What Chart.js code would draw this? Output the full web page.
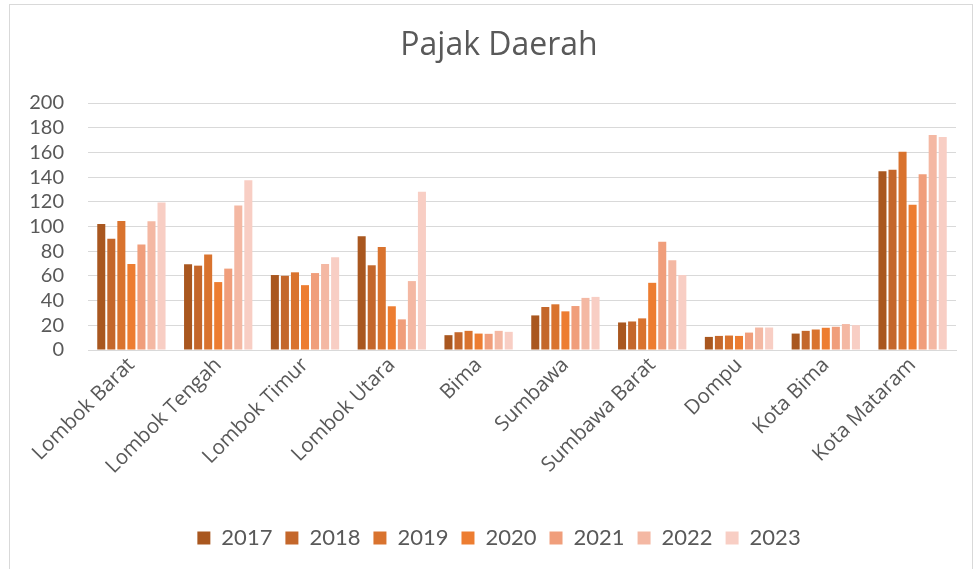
<!DOCTYPE html>
<html>
<head>
<meta charset="utf-8">
<script src="https://cdn.jsdelivr.net/npm/chart.js@4/dist/chart.umd.min.js"></script>
<style>
html,body{margin:0;padding:0;background:#fff;}
#wrap{position:relative;width:978px;height:569px;}
</style>
</head>
<body>
<div id="wrap"><canvas id="c" width="978" height="569"></canvas></div>
<script>
const categories = ["Lombok Barat","Lombok Tengah","Lombok Timur","Lombok Utara","Bima","Sumbawa","Sumbawa Barat","Dompu","Kota Bima","Kota Mataram"];
const years = ["2017","2018","2019","2020","2021","2022","2023"];
const v2017 = [102, 69.4, 60.7, 92.2, 12.0, 28.0, 22.3, 10.6, 13.3, 144.8];
const v2018 = [90, 68.3, 60.1, 68.6, 14.4, 34.8, 23.1, 11.4, 15.5, 145.9];
const v2019 = [104.5, 77.3, 62.9, 83.5, 15.5, 37.0, 25.6, 11.7, 16.6, 160.5];
const v2020 = [69.7, 55.0, 52.5, 35.4, 13.3, 31.3, 54.4, 11.4, 18.0, 117.6];
const v2021 = [85.4, 65.9, 62.3, 24.8, 13.1, 35.6, 87.6, 14.1, 18.8, 142.3];
const v2022 = [104.2, 117.0, 69.7, 55.8, 15.5, 42.2, 72.7, 18.2, 21.0, 174.1];
const v2023 = [119.5, 137.4, 75.1, 128.2, 14.7, 43.0, 60.7, 18.2, 20.1, 172.5];
const yTicks = [0,20,40,60,80,100,120,140,160,180,200];
const colors = ["#A9571F","#C4672B","#D9732E","#ED7D31","#F09E7B","#F4B8A3","#F8CEC4"];
const series = [v2017,v2018,v2019,v2020,v2021,v2022,v2023];

const borderPlugin = {
  id:'outerBorder',
  beforeDraw(chart){
    const ctx = chart.ctx;
    ctx.save();
    ctx.fillStyle = '#fff';
    ctx.fillRect(0,0,chart.width,chart.height);
    ctx.strokeStyle = '#d9d9d9';
    ctx.lineWidth = 1;
    ctx.strokeRect(9.5,4.5,963,570);
    ctx.restore();
  }
};

new Chart(document.getElementById('c'), {
  type:'bar',
  data:{
    labels: categories,
    datasets: series.map((d,i)=>({
      label: years[i],
      data: d,
      backgroundColor: colors[i],
      borderWidth: 0,
      categoryPercentage: 0.81,
      barPercentage: 0.8
    }))
  },
  options:{
    responsive:false,
    animation:false,
    devicePixelRatio:1,
    layout:{padding:{left:20,right:0,top:0,bottom:10}},
    plugins:{
      title:{
        display:true,
        text:'Pajak Daerah',
        color:'#595959',
        font:{family:'Open Sans',size:32,weight:'normal'},
        padding:{top:27,bottom:37.6}
      },
      legend:{
        position:'bottom',
        labels:{
          color:'#595959',
          boxWidth:13,
          boxHeight:13,
          padding:13,
          font:{family:'Lato',size:22}
        }
      },
      tooltip:{enabled:false}
    },
    scales:{
      x:{
        grid:{display:false,drawTicks:false},
        border:{color:'#d9d9d9',width:1},
        ticks:{
          color:'#595959',
          font:{family:'Open Sans',size:20.5},
          minRotation:45,
          maxRotation:45,
          padding:3,
          autoSkip:false
        },
        afterFit(scale){ scale.height = 164; }
      },
      y:{
        min:0,max:200,
        afterBuildTicks(scale){ scale.ticks = yTicks.map(v=>({value:v})); },
        grid:{color:'#d9d9d9',lineWidth:1,drawTicks:false},
        border:{display:false},
        ticks:{
          color:'#595959',
          font:{family:'Lato',size:20},
          padding:24,
          autoSkip:false
        },
        afterFit(scale){ scale.width = 68; }
      },
      yRight:{
        position:'right',
        min:0,max:200,
        grid:{display:false,drawTicks:false},
        border:{display:false},
        ticks:{display:false},
        afterFit(scale){ scale.width = 22; }
      }
    }
  },
  plugins:[borderPlugin]
});
</script>
</body>
</html>
